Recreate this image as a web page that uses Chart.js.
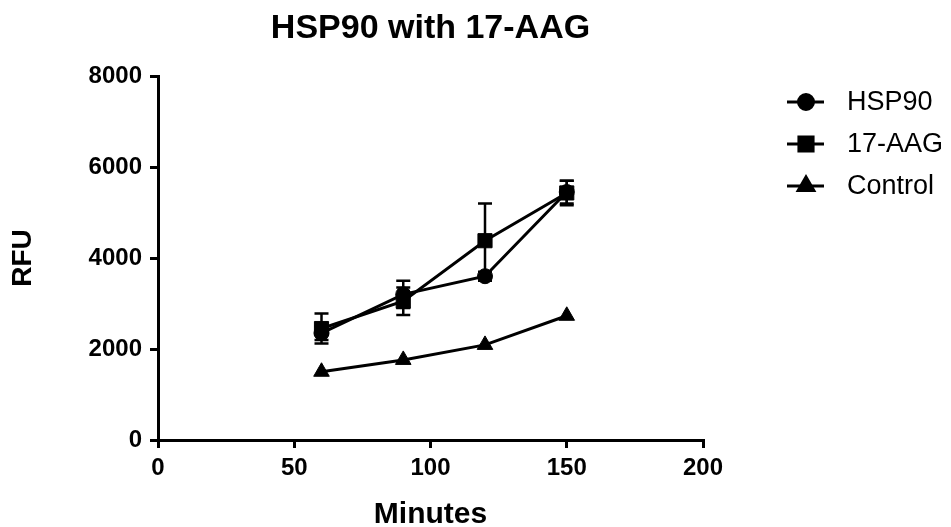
<!DOCTYPE html>
<html lang="en">
<head>
    <meta charset="UTF-8">
    <title>HSP90 with 17-AAG</title>
    <script src="https://cdn.jsdelivr.net/npm/chart.js"></script>
    <style>
        body { margin: 0; background: #fff; }
        #chart { display: block; }
    </style>
</head>
<body>
    <canvas id="chart" width="951" height="527"></canvas>

    <script>
        // Data
        const minutes = [60, 90, 120, 150];
        const hsp90 = [2350, 3200, 3600, 5450];
        const hsp90Err = [150, 300, 100, 250];
        const aag = [2450, 3050, 4380, 5430];
        const aagErr = [330, 300, 820, 270];
        const control = [1500, 1760, 2090, 2730];
        const xTicks = [0, 50, 100, 150, 200];
        const yTicks = [0, 2000, 4000, 6000, 8000];

        const FONT = "Arial, 'Liberation Sans', sans-serif";

        const toPoints = (ys) => ys.map((y, i) => ({ x: minutes[i], y: y }));

        // error bars drawn before the markers so markers sit on top
        const errorBars = {
            id: 'errorBars',
            beforeDatasetsDraw(chart) {
                const ctx = chart.ctx;
                const xs = chart.scales.x, ys = chart.scales.y;
                ctx.save();
                ctx.strokeStyle = '#000';
                ctx.lineWidth = 2.5;
                chart.data.datasets.forEach(ds => {
                    if (!ds.errors) return;
                    ds.data.forEach((p, i) => {
                        const e = ds.errors[i];
                        const px = xs.getPixelForValue(p.x);
                        const top = ys.getPixelForValue(p.y + e);
                        const bot = ys.getPixelForValue(p.y - e);
                        ctx.beginPath();
                        ctx.moveTo(px, top); ctx.lineTo(px, bot);
                        ctx.moveTo(px - 7, top); ctx.lineTo(px + 7, top);
                        ctx.moveTo(px - 7, bot); ctx.lineTo(px + 7, bot);
                        ctx.stroke();
                    });
                });
                ctx.restore();
            }
        };

        // title and line+marker legend, Prism style
        const decorations = {
            id: 'decorations',
            afterDraw(chart) {
                const ctx = chart.ctx;
                const area = chart.chartArea;
                ctx.save();
                ctx.fillStyle = '#000';
                ctx.textAlign = 'center';
                ctx.textBaseline = 'middle';
                ctx.font = 'bold 34px ' + FONT;
                ctx.fillText('HSP90 with 17-AAG', (area.left + area.right) / 2, 29);

                const rows = [102, 144, 186];
                ctx.font = '27px ' + FONT;
                ctx.textAlign = 'left';
                chart.data.datasets.forEach((ds, i) => {
                    const y = rows[i];
                    ctx.strokeStyle = '#000';
                    ctx.lineWidth = 3;
                    ctx.beginPath();
                    ctx.moveTo(787, y); ctx.lineTo(824, y);
                    ctx.stroke();
                    Chart.helpers.drawPoint(ctx, {
                        pointStyle: ds.pointStyle,
                        radius: ds.pointRadius,
                        borderWidth: 1
                    }, 806, y);
                    ctx.fillStyle = '#000';
                    ctx.fillText(ds.label, 847, y + 1);
                });
                ctx.restore();
            }
        };

        const common = {
            borderColor: '#000',
            backgroundColor: '#000',
            pointBackgroundColor: '#000',
            pointBorderColor: '#000',
            borderWidth: 3,
            pointBorderWidth: 1,
            showLine: true,
            tension: 0
        };

        new Chart(document.getElementById('chart').getContext('2d'), {
            type: 'scatter',
            data: {
                datasets: [
                    Object.assign({ label: 'HSP90', data: toPoints(hsp90), errors: hsp90Err,
                        pointStyle: 'circle', pointRadius: 7.5 }, common),
                    Object.assign({ label: '17-AAG', data: toPoints(aag), errors: aagErr,
                        pointStyle: 'rect', pointRadius: 10 }, common),
                    Object.assign({ label: 'Control', data: toPoints(control),
                        pointStyle: 'triangle', pointRadius: 9 }, common)
                ]
            },
            options: {
                responsive: false,
                animation: false,
                layout: { padding: { top: 76, right: 248, left: 0, bottom: 0 } },
                plugins: {
                    legend: { display: false },
                    title: { display: false },
                    tooltip: { enabled: false }
                },
                scales: {
                    x: {
                        type: 'linear',
                        min: 0, max: 200,
                        afterBuildTicks: (s) => { s.ticks = xTicks.map(v => ({ value: v })); },
                        afterFit: (s) => { s.height = 87; },
                        border: { color: '#000', width: 3 },
                        grid: { drawOnChartArea: false, color: '#000', lineWidth: 3, tickLength: 8 },
                        ticks: { color: '#000', padding: 6, maxRotation: 0,
                            callback: (v) => String(v),
                            font: { family: FONT, size: 24, weight: 'bold' } },
                        title: { display: true, text: 'Minutes', color: '#000', padding: { top: 4, bottom: 0 },
                            font: { family: FONT, size: 30, weight: 'bold', lineHeight: 0.8 } }
                    },
                    y: {
                        min: 0, max: 8000,
                        afterBuildTicks: (s) => { s.ticks = yTicks.map(v => ({ value: v })); },
                        afterFit: (s) => { s.width = 158; },
                        border: { color: '#000', width: 3 },
                        grid: { drawOnChartArea: false, color: '#000', lineWidth: 3, tickLength: 8 },
                        ticks: { color: '#000', padding: 8,
                            callback: (v) => String(v),
                            font: { family: FONT, size: 24, weight: 'bold' } },
                        title: { display: true, text: 'RFU', color: '#000', padding: { top: 6 },
                            font: { family: FONT, size: 28, weight: 'bold' } }
                    }
                }
            },
            plugins: [errorBars, decorations]
        });
    </script>
</body>
</html>
